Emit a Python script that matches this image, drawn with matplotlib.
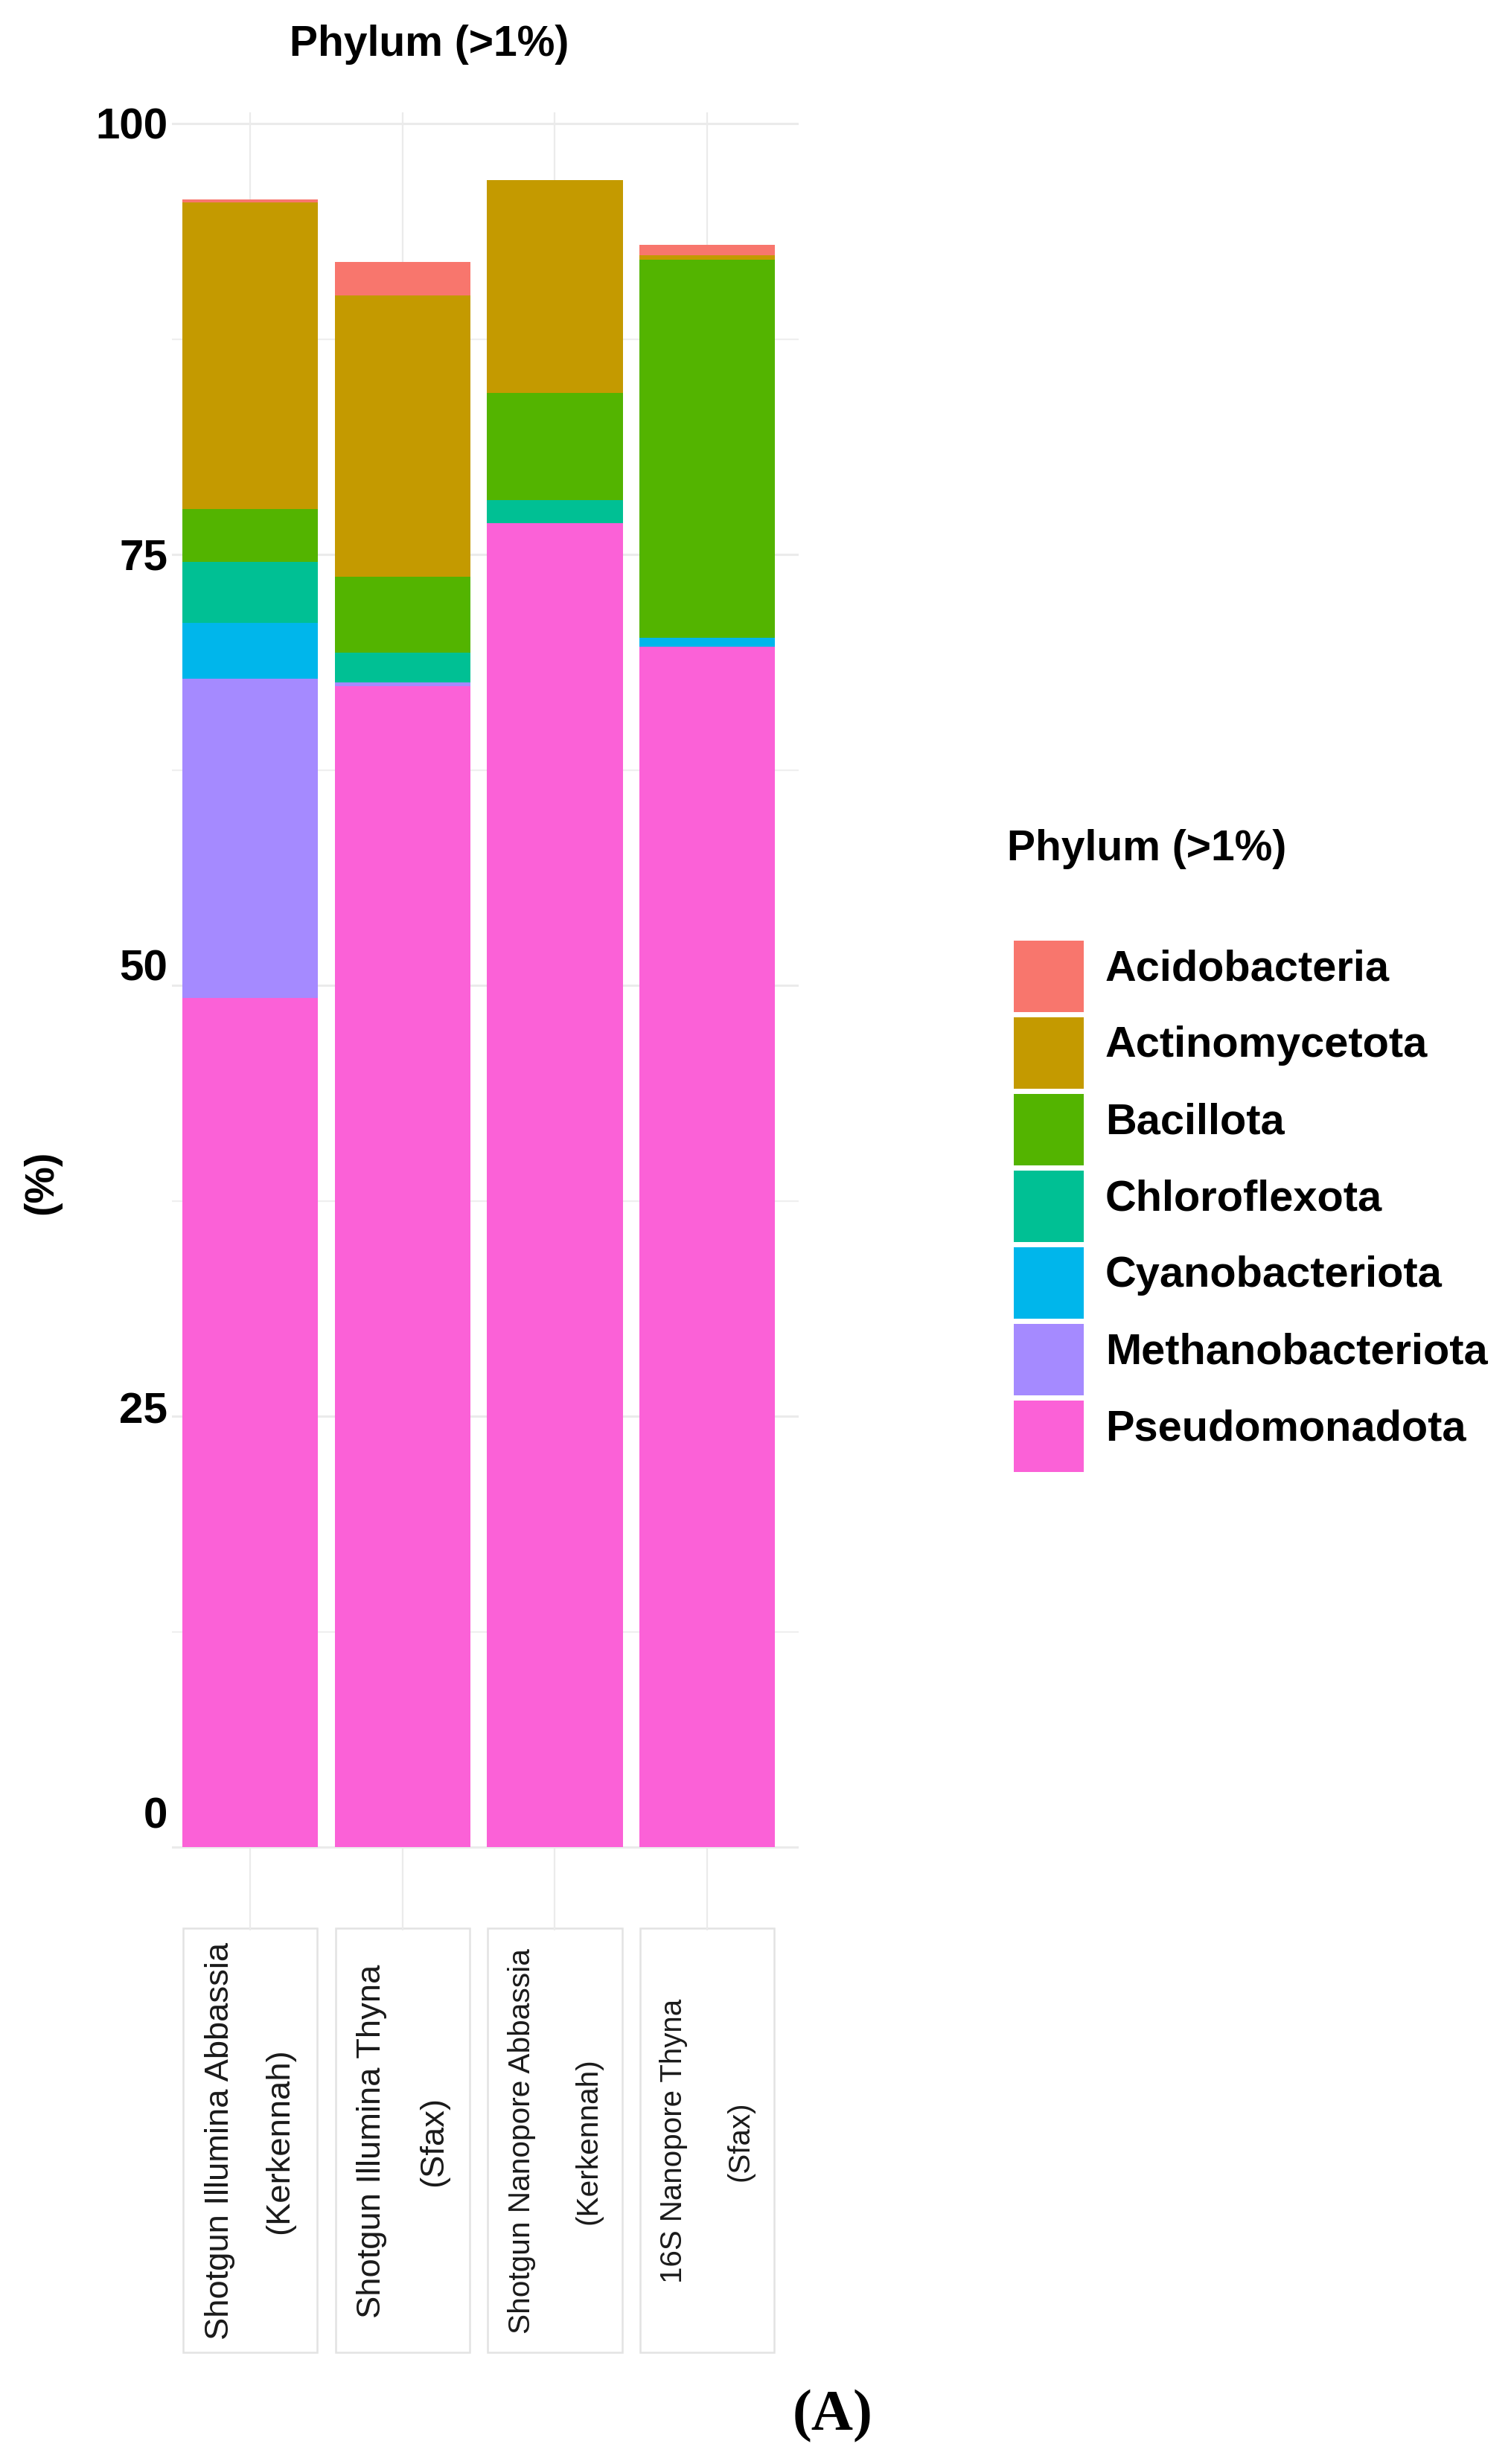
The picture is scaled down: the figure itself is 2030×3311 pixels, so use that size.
import matplotlib
matplotlib.use("Agg")
import matplotlib.pyplot as plt
from matplotlib.patches import Patch, Rectangle
from matplotlib.legend_handler import HandlerPatch
from matplotlib import transforms
from matplotlib import font_manager as fm
import numpy as np

# ---------------- data ----------------
categories = ["Shotgun Illumina Abbassia\n(Kerkennah)",
              "Shotgun Illumina Thyna\n(Sfax)",
              "Shotgun Nanopore Abbassia\n(Kerkennah)",
              "16S Nanopore Thyna\n(Sfax)"]
phyla = ["Acidobacteria", "Actinomycetota", "Bacillota", "Chloroflexota",
         "Cyanobacteriota", "Methanobacteriota", "Pseudomonadota"]
colors = ["#F8766D", "#C49A00", "#53B400", "#00C094", "#00B6EB", "#A58AFF", "#FB61D7"]

acidobacteria = [0.15, 1.97, 0.0, 0.63]
actinomycetota = [17.80, 16.32, 12.34, 0.27]
bacillota = [3.06, 4.40, 6.23, 21.92]
chloroflexota = [3.56, 1.70, 1.34, 0.0]
cyanobacteriota = [3.21, 0.0, 0.0, 0.52]
methanobacteriota = [18.55, 0.25, 0.0, 0.0]
pseudomonadota = [49.25, 67.34, 76.80, 69.64]

yticks = [0, 25, 50, 75, 100]
title = "Phylum (>1%)"

series = [acidobacteria, actinomycetota, bacillota, chloroflexota,
          cyanobacteriota, methanobacteriota, pseudomonadota]

# ---------------- fonts ----------------
names = {f.name for f in fm.fontManager.ttflist}
SANS = "Liberation Sans" if "Liberation Sans" in names else "DejaVu Sans"
NARROW = "Liberation Sans Narrow" if "Liberation Sans Narrow" in names else None
plt.rcParams["font.family"] = [SANS, "DejaVu Sans"]

W, H = 2030, 3312
fig = plt.figure(figsize=(W / 100, H / 100), dpi=100)
fig.patch.set_facecolor("white")

left_px, right_px = 231, 1073
top_px, bot_px = 152, 2595
ax = fig.add_axes([left_px / W, 1 - bot_px / H, (right_px - left_px) / W, (bot_px - top_px) / H])
ax.set_facecolor("white")

x = np.arange(len(categories))
bottom = np.zeros(len(categories))
for name, vals, col in reversed(list(zip(phyla, series, colors))):
    v = np.array(vals)
    ax.bar(x, v, bottom=bottom, width=0.89, color=col, linewidth=0, zorder=3)
    bottom += v

top = bottom.max()
ax.set_ylim(-0.05 * top, 100.65)
ax.set_xlim(-0.513, 3.6)

# grid
ax.set_yticks(yticks)
ax.set_yticks([12.5, 37.5, 62.5, 87.5], minor=True)
ax.grid(axis="y", which="major", color="#EBEBEB", linewidth=2.2, zorder=0)
ax.grid(axis="y", which="minor", color="#EFEFEF", linewidth=1.6, zorder=0)
ax.grid(axis="x", which="major", color="#EBEBEB", linewidth=1.6, zorder=0)
ax.set_axisbelow(True)
for s in ax.spines.values():
    s.set_visible(False)

ax.tick_params(axis="both", which="both", length=0)
ax.set_yticklabels([str(t) for t in yticks], fontsize=42, fontweight="bold", color="black")
ax.tick_params(axis="y", pad=4)
# the source places some y labels slightly above their grid lines
label_lift_px = [48, 13, 29, 2, 2]
for tick, lift in zip(ax.yaxis.get_major_ticks(), label_lift_px):
    lab = tick.label1
    lab.set_transform(lab.get_transform() +
                      transforms.ScaledTranslation(0, lift / 100, fig.dpi_scale_trans))

# x tick labels inside boxes
ax.set_xticks(x)
ax.set_xticklabels(categories)
ax.tick_params(axis="x", pad=203)
sizes_px = [45.4, 45.4, 40.6, 40.3]
spacings = [2.22, 2.31, 2.72, 2.72]
for lab, spx, ls in zip(ax.get_xticklabels(), sizes_px, spacings):
    if NARROW:
        lab.set_family([NARROW, SANS])
        lab.set_fontsize(spx / 0.82 * 0.72)
    else:
        lab.set_fontsize(spx * 0.72)
    lab.set_rotation(90)
    lab.set_va("center")
    lab.set_ha("center")
    lab.set_multialignment("center")
    lab.set_linespacing(ls)
    lab.set_color("#1A1A1A")
    lab.set_zorder(5)

blend = transforms.blended_transform_factory(ax.transData, fig.transFigure)
box_top, box_bot = 2592, 3162
for xi in x:
    r = Rectangle((xi - 0.44, 1 - box_bot / H), 0.88, (box_bot - box_top) / H,
                  transform=blend, facecolor="none", edgecolor="#E3E3E3",
                  linewidth=1.8, clip_on=False, zorder=0.1)
    ax.add_patch(r)

# title and y label
ax.set_title(title, fontsize=41, fontweight="bold", x=(577 - left_px) / (right_px - left_px),
             y=1 + (top_px - 68) / (bot_px - top_px), va="center")
ax.set_ylabel("(%)", fontsize=40, fontweight="bold", rotation=90, va="center")
ax.yaxis.set_label_coords((56 - left_px) / (right_px - left_px), (bot_px - 1589) / (bot_px - top_px))

# legend
fs_leg = 41.6
fs_px = fs_leg * 100 / 72
key_shift = 0.24  # in font-size units: key sits a bit lower than the text
key_h = 96 / fs_px
hh = (key_h - 0.245) / 0.65   # handleheight giving a key box of key_h


def key_patch(legend, orig_handle, xdescent, ydescent, width, height, fontsize):
    return Rectangle((-xdescent, -ydescent - key_shift * fontsize), width, height)


handles = [Patch(facecolor=c, edgecolor="none") for c in colors]
leg = fig.legend(handles, phyla, loc="upper left",
                 bbox_to_anchor=(1362 / W, 1 - (1265 - key_shift * fs_px) / H),
                 bbox_transform=fig.transFigure,
                 frameon=False, prop={"family": SANS, "weight": "bold", "size": fs_leg},
                 handlelength=94 / fs_px, handleheight=hh,
                 labelspacing=7 / fs_px, handletextpad=29 / fs_px,
                 borderpad=0, borderaxespad=0,
                 handler_map={Patch: HandlerPatch(patch_func=key_patch)})
fig.text(1353 / W, 1 - 1141 / H, title, ha="left", va="center",
         fontsize=41, fontweight="bold")

# panel tag
fig.text(1119 / W, 1 - 3247 / H, "(A)", ha="center", va="center",
         fontsize=56, fontweight="bold", family=["Liberation Serif", "DejaVu Serif"])

fig.savefig("out.png", dpi=100, facecolor="white")
